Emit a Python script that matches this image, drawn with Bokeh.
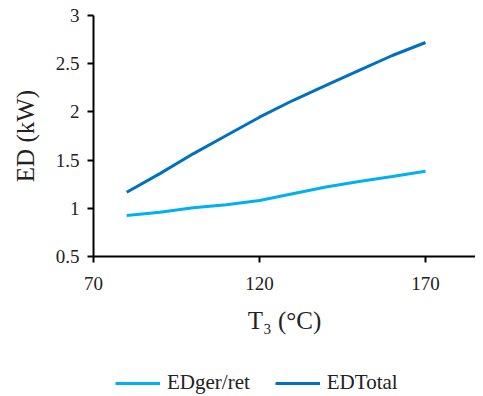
from bokeh.plotting import figure
from bokeh.models import Range1d, Legend, LegendItem, FixedTicker, LinearAxis
from bokeh.embed import file_html
from bokeh.resources import INLINE

T3 = [80, 90, 100, 110, 120, 130, 140, 150, 160, 170]
ed_ger_ret = [0.925, 0.96, 1.005, 1.036, 1.08, 1.15, 1.22, 1.278, 1.33, 1.385]
ed_total = [1.167, 1.36, 1.565, 1.755, 1.945, 2.118, 2.274, 2.43, 2.585, 2.72]
x_ticks = [70, 120, 170]
y_ticks = [0.5, 1, 1.5, 2, 2.5, 3]
x_min, y_min, y_max = 70, 0.5, 3

FONT = "Liberation Serif"

W, H = 475, 396
TOP = 15               # pixel position of the top of the y axis
ORIGIN_X = 93          # pixel position of the axes origin
PX_PER_X = 3.32        # pixels per degree
PX_PER_Y = 241 / 2.5   # pixels per kW
x_start = x_min - ORIGIN_X / PX_PER_X
x_end = x_min + (W - ORIGIN_X) / PX_PER_X
y_end = y_max + TOP / PX_PER_Y
y_start = y_max - (H - TOP) / PX_PER_Y

p = figure(width=W, height=H, output_backend="svg", toolbar_location=None,
           x_range=Range1d(x_start, x_end), y_range=Range1d(y_start, y_end),
           x_axis_location=None, y_axis_location=None)
p.min_border_left = 0
p.min_border_right = 0
p.min_border_top = 0
p.min_border_bottom = 0
p.outline_line_color = None
p.xgrid.visible = False
p.ygrid.visible = False

r1 = p.line(T3, ed_ger_ret, line_color="#00B0F0", line_width=3)
r2 = p.line(T3, ed_total, line_color="#0070C0", line_width=3)

xax = LinearAxis(fixed_location=y_min, bounds=(x_min, x_end))
yax = LinearAxis(fixed_location=x_min, bounds=(y_min, y_max))
p.add_layout(xax, "below")
p.add_layout(yax, "left")

xax.ticker = FixedTicker(ticks=x_ticks)
yax.ticker = FixedTicker(ticks=y_ticks)
for ax in (xax, yax):
    ax.axis_line_color = "black"
    ax.axis_line_width = 2
    ax.major_tick_line_color = "black"
    ax.major_tick_line_width = 2
    ax.major_tick_out = 6
    ax.major_tick_in = 0
    ax.minor_tick_line_color = None
    ax.major_label_text_font = FONT
    ax.major_label_text_font_size = "19px"
    ax.major_label_text_color = "#222222"
    ax.axis_label_text_font = FONT
    ax.axis_label_text_font_size = "25px"
    ax.axis_label_text_font_style = "normal"
    ax.axis_label_text_color = "#222222"
xax.major_label_standoff = 14
yax.major_label_standoff = 8
xax.axis_label = "T\u2083 (\u00b0C)"
yax.axis_label = "ED (kW)"
xax.axis_label_standoff = 14
yax.axis_label_standoff = 14

legend = Legend(items=[LegendItem(label="EDger/ret", renderers=[r1]),
                       LegendItem(label="EDTotal", renderers=[r2])],
                orientation="horizontal", location=(115, 1))
legend.label_text_font = FONT
legend.label_text_font_size = "21px"
legend.label_text_color = "#222222"
legend.glyph_width = 45
legend.label_standoff = 7
legend.spacing = 25
legend.border_line_color = None
legend.background_fill_alpha = 0
legend.margin = 0
legend.padding = 0
p.add_layout(legend, "center")

open("out.html", "w").write(file_html(p, INLINE))
